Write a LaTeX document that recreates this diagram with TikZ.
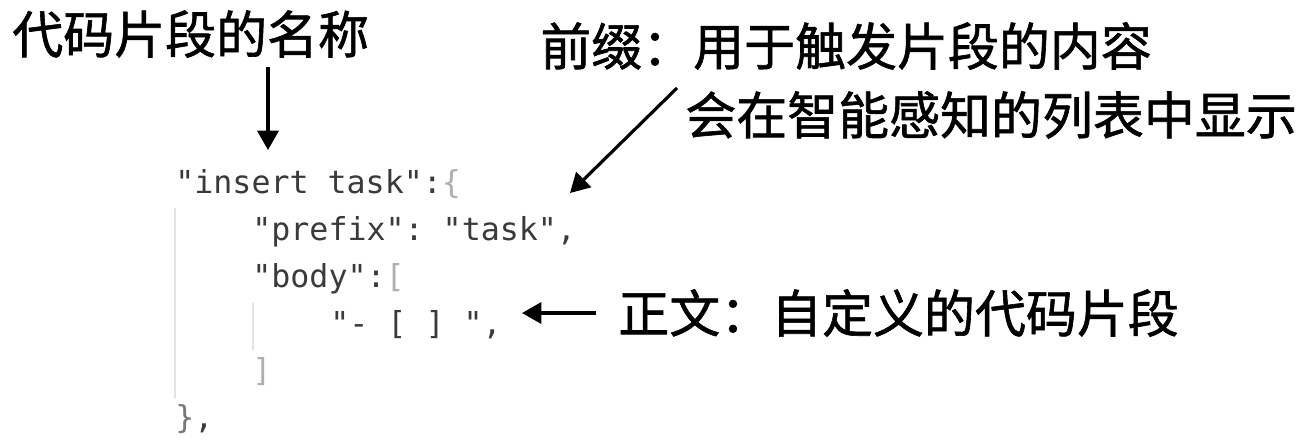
\documentclass[tikz,border=0pt]{standalone}
\usepackage{fontspec}
\usepackage{xcolor}
\newfontfamily\cjk{Noto Sans CJK SC}[FakeBold=1.2]
\setmonofont{DejaVu Sans Mono}
\usetikzlibrary{arrows.meta,positioning}
\definecolor{codegray}{RGB}{58,58,58}
\definecolor{bracegray}{RGB}{175,175,175}
\definecolor{closegray}{RGB}{120,120,120}
\definecolor{guidegray}{RGB}{228,228,228}

\begin{document}
\begin{tikzpicture}[x=0.02cm,y=-0.02cm,
    label/.style={anchor=west,inner sep=0pt,font=\cjk\fontsize{29}{30}\selectfont},
    code/.style={anchor=base west,inner sep=0pt,text=codegray,font=\ttfamily\fontsize{18}{18}\selectfont},
    arr/.style={line width=1.8pt,-{Triangle[length=11pt,width=12pt]}},
    guide/.style={guidegray,line width=1pt}]
    \useasboundingbox (0,0) rectangle (1310,443);

    % Labels
    \node[label] (name) at (12,34) {代码片段的名称};
    \node[label] (prefixtxt) at (540,46) {前缀：用于触发片段的内容};
    \node[label] (prefixtxt2) at (685,115) {会在智能感知的列表中显示};
    \node[label] (bodytxt) at (618,313) {正文：自定义的代码片段};

    % Code lines
    \node[code] (key) at (175,193) {"insert task":\textcolor{bracegray}{\{}};
    \node[code] (prefix) at (252,240) {"prefix": "task",};
    \node[code] (body) at (252,287) {"body":\textcolor{bracegray}{[}};
    \node[code] (item) at (330,334) {"- [ ] ",};
    \node[code] (close) at (252,381) {\textcolor{bracegray}{]}};
    \node[code] (end) at (175,428) {\textcolor{closegray}{\}},};

    % Indent guides
    \draw[guide] (175,208) -- (175,398);
    \draw[guide] (253,303) -- (253,350);

    % Arrows
    \coordinate (nametail) at (268,67);
    \coordinate (nametip) at (268,150);
    \coordinate (prefixtail) at (677,88);
    \coordinate (prefixtip) at (570,193);
    \coordinate (bodytail) at (596,313);
    \coordinate (bodytip) at (522,313);
    \draw[arr] (nametail) -- (nametip);
    \draw[arr] (prefixtail) -- (prefixtip);
    \draw[arr] (bodytail) -- (bodytip);
\end{tikzpicture}
\end{document}
